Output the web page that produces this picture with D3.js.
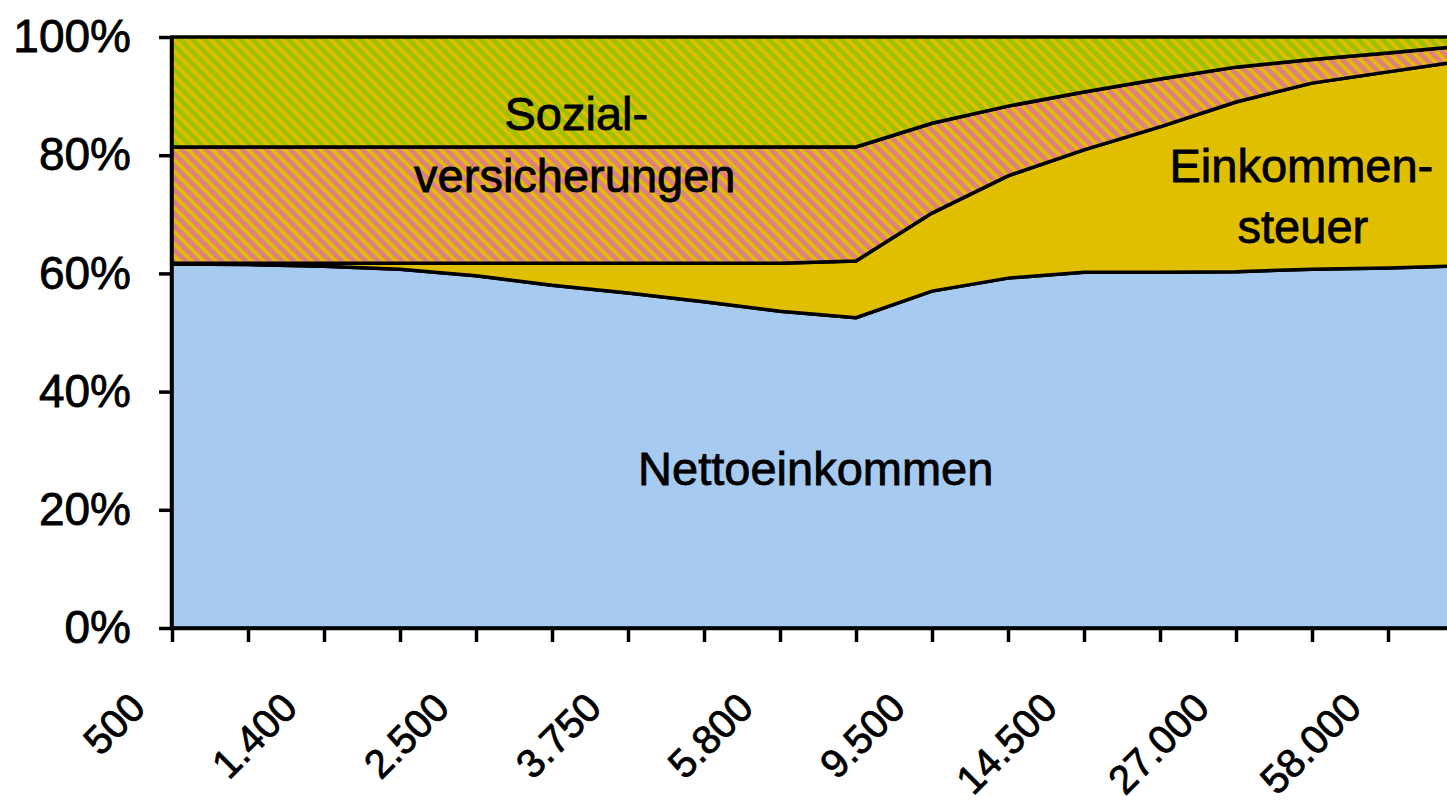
<!DOCTYPE html>
<html>
<head>
<meta charset="utf-8">
<script src="https://cdn.jsdelivr.net/npm/d3@7"></script>
<style>
  html, body { margin: 0; padding: 0; background: #fff; overflow: hidden; }
  svg { display: block; font-family: "Liberation Sans", Arial, sans-serif; }
  svg text { stroke: #000; stroke-width: 0.8px; }
</style>
</head>
<body>
<div class="container"></div>
<script>
// income brackets (every second one is labelled on the axis)
var categories = ["500", "900", "1.400", "1.900", "2.500", "3.100", "3.750", "4.700", "5.800",
                  "7.500", "9.500", "12.000", "14.500", "20.000", "27.000", "40.000", "58.000", "80.000"];

// shares in percent, bottom to top
var netto      = [61.6, 61.5, 61.2, 60.7, 59.6, 58.0, 56.7, 55.2, 53.6, 52.5, 57.0, 59.2, 60.2, 60.2, 60.3, 60.7, 60.9, 61.3];
var steuer     = [0.1, 0.2, 0.5, 1.0, 2.1, 3.7, 5.0, 6.5, 8.1, 9.6, 13.2, 17.3, 20.7, 24.6, 28.7, 31.5, 33.2, 34.7];
var sozialAN   = [19.7, 19.7, 19.7, 19.7, 19.7, 19.7, 19.7, 19.7, 19.7, 19.3, 15.2, 11.8, 9.8, 8.1, 5.9, 4.0, 3.2, 2.5];
var sozialAG   = [18.6, 18.6, 18.6, 18.6, 18.6, 18.6, 18.6, 18.6, 18.6, 18.6, 14.6, 11.7, 9.3, 7.1, 5.1, 3.8, 2.7, 1.5];

var yTicks = [0, 20, 40, 60, 80, 100];

// in-chart labels: position as category index and percent
var labels = [
  {text: "Sozial-",        at: 5.32,  pct: 84.3},
  {text: "versicherungen", at: 5.30,  pct: 73.8},
  {text: "Einkommen-",     at: 14.86, pct: 75.5},
  {text: "steuer",         at: 14.88, pct: 65.1},
  {text: "Nettoeinkommen", at: 8.47,  pct: 24.2}
];

var width = 1447;
var height = 805;
var plotLeft = 172, plotRight = 1464, plotTop = 37, plotBottom = 628;

var blue = "#a6caf0", yellow = "#e0bf00", pink = "#e08080", green = "#a0c000";

var rows = categories.map(function(c, i) {
  return {cat: c, netto: netto[i], steuer: steuer[i], sozialAN: sozialAN[i], sozialAG: sozialAG[i]};
});

var keys = ["netto", "steuer", "sozialAN", "sozialAG"];
var stack = d3.stack().keys(keys);
var series = stack(rows);

var x = d3.scalePoint().domain(categories).range([plotLeft, plotRight]).padding(0);
var xi = d3.scaleLinear().domain([0, categories.length - 1]).range([plotLeft, plotRight]);
var y = d3.scaleLinear().domain([0, 100]).range([plotBottom, plotTop]);

var svg = d3.select(".container").append("svg")
            .attr("width", width)
            .attr("height", height);

svg.append("rect").attr("width", width).attr("height", height).attr("fill", "#fff");

var defs = svg.append("defs");
function hatch(id, base) {
  var p = defs.append("pattern")
              .attr("id", id)
              .attr("patternUnits", "userSpaceOnUse")
              .attr("width", 8.5)
              .attr("height", 8.5)
              .attr("patternTransform", "rotate(-45)");
  p.append("rect").attr("width", 8.5).attr("height", 8.5).attr("fill", base);
  p.append("rect").attr("width", 3.6).attr("height", 8.5).attr("fill", yellow);
}
hatch("hatchPink", pink);
hatch("hatchGreen", green);

var fills = {netto: blue, steuer: yellow, sozialAN: "url(#hatchPink)", sozialAG: "url(#hatchGreen)"};

var area = d3.area()
             .x(d => x(d.data.cat))
             .y0(d => y(d[0]))
             .y1(d => y(d[1]));

svg.append("g").selectAll("path.layer")
   .data(series)
   .enter().append("path")
   .attr("class", "layer")
   .attr("d", area)
   .attr("fill", d => fills[d.key])
   .attr("stroke", "#000")
   .attr("stroke-width", 3.5)
   .attr("stroke-linejoin", "miter");

// y axis
var yAxis = svg.append("g")
   .attr("transform", `translate(${plotLeft - 1},0)`)
   .call(d3.axisLeft(y).tickValues(yTicks).tickFormat(d => d + "%").tickSize(12).tickSizeOuter(0).tickPadding(28));
yAxis.selectAll("path, line").attr("stroke", "#000").attr("stroke-width", 3.5);
yAxis.selectAll("text")
     .style("font-size", "46px")
     .attr("fill", "#000");

// x axis
var xAxis = svg.append("g")
   .attr("transform", `translate(0,${plotBottom})`)
   .call(d3.axisBottom(x).tickSize(14).tickSizeOuter(0)
           .tickFormat((d, i) => i % 2 === 0 ? d : ""));
xAxis.selectAll("path, line").attr("stroke", "#000").attr("stroke-width", 3.5);
xAxis.selectAll("text")
     .attr("x", 0).attr("y", 0).attr("dy", 0)
     .attr("transform", "translate(-25,82) rotate(-45)")
     .style("text-anchor", "end")
     .style("font-size", "40px")
     .attr("fill", "#000");

// labels in the areas
svg.append("g").selectAll("text")
   .data(labels)
   .enter().append("text")
   .attr("x", d => xi(d.at))
   .attr("y", d => y(d.pct))
   .attr("text-anchor", "middle")
   .style("font-size", "47px")
   .attr("fill", "#000")
   .text(d => d.text);
</script>
</body>
</html>
